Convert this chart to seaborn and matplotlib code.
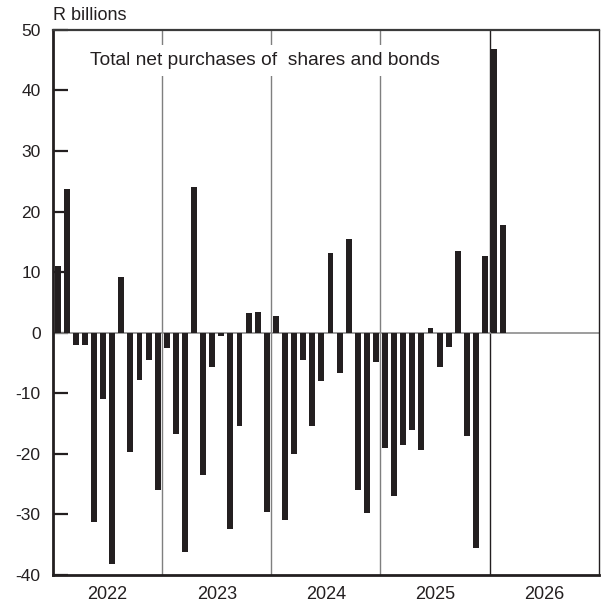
import numpy as np
import pandas as pd
import matplotlib
matplotlib.use("Agg")
import matplotlib.pyplot as plt
import seaborn as sns

# monthly net purchases, R billions (Jan 2022 .. Feb 2026)
values_2022 = [11.0, 23.8, -2.1, -2.1, -31.2, -10.9, -38.2, 9.2, -19.7, -7.9, -4.5, -25.9]
values_2023 = [-2.6, -16.7, -36.3, 24.1, -23.5, -5.6, -0.5, -32.4, -15.4, 3.2, 3.4, -29.6]
values_2024 = [2.8, -31.0, -20.0, -4.5, -15.4, -8.0, 13.2, -6.6, 15.5, -25.9, -29.7, -4.9]
values_2025 = [-19.0, -26.9, -18.5, -16.0, -19.3, 0.8, -5.6, -2.4, 13.4, -17.0, -35.6, 12.7]
values_2026 = [46.9, 17.8]

years = [2022, 2023, 2024, 2025, 2026]
year_labels = ["2022", "2023", "2024", "2025", "2026"]
y_ticks = [-40, -30, -20, -10, 0, 10, 20, 30, 40, 50]

all_vals = values_2022 + values_2023 + values_2024 + values_2025 + values_2026
month_idx = np.arange(len(all_vals))
df = pd.DataFrame({
    "pos": 2022 + (month_idx + 0.5) / 12,
    "value": all_vals,
})

ink = "#231f20"
sns.set_theme(style="white")
plt.rcParams["font.family"] = ["Liberation Sans", "DejaVu Sans"]

fig = plt.figure(figsize=(6.03, 6.09), dpi=100)
ax = fig.add_axes([0.088, 0.056, 0.905, 0.895])

sns.barplot(data=df, x="pos", y="value", native_scale=True, width=0.65,
            color=ink, saturation=1, linewidth=0, ax=ax)

ax.set_xlim(2022, 2027)
ax.set_ylim(-40, 50)

# year separators (last one darker)
for yr in years[1:]:
    c = ink if yr == 2026 else "#7f7f7f"
    ax.axvline(yr, color=c, lw=1.0, zorder=0.5)
ax.axhline(0, color="#8c8c8c", lw=1.2, zorder=0.6)

ax.set_yticks(y_ticks)
ax.set_yticklabels([str(t) for t in y_ticks])
ax.set_xticks([y + 0.5 for y in years])
ax.set_xticklabels(year_labels)
ax.tick_params(axis="y", left=True, direction="in", length=10.5, width=1.6, color=ink,
               pad=9, labelsize=12.5, labelcolor=ink)
ax.tick_params(axis="x", bottom=False, length=0, pad=8, labelsize=13, labelcolor=ink)
ax.set_xlabel("")
ax.set_ylabel("")

for side, w in [("left", 2.0), ("bottom", 2.0), ("top", 1.6), ("right", 1.0)]:
    ax.spines[side].set_visible(True)
    ax.spines[side].set_linewidth(w)
    ax.spines[side].set_color(ink if side != "top" else "#3a3a3a")

ax.text(0.0, 1.01, "R billions", transform=ax.transAxes,
        fontsize=13, color=ink, ha="left", va="bottom")

ax.text(2022.34, 45.0, "Total net purchases of  shares and bonds", fontsize=13.8,
        color=ink, ha="left", va="center", zorder=3,
        bbox=dict(facecolor="white", edgecolor="none", pad=5))

fig.savefig("out.png", dpi=100)
